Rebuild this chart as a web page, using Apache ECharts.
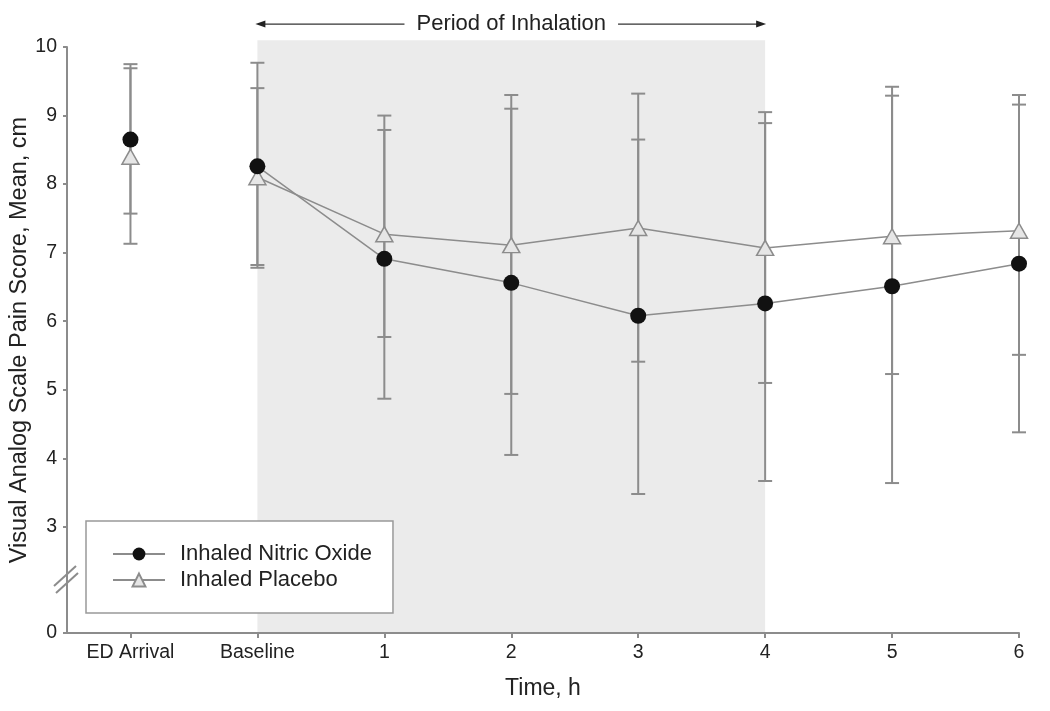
<!DOCTYPE html>
<html>
<head>
<meta charset="utf-8">
<script src="https://cdn.jsdelivr.net/npm/echarts@6/dist/echarts.min.js"></script>
<style>html,body{margin:0;padding:0;background:#fff}#c{width:1050px;height:711px}</style>
</head>
<body>
<div id="c"></div>
<script>
const categories = ['ED Arrival', 'Baseline', '1', '2', '3', '4', '5', '6'];
const noMean  = [8.65, 8.26, 6.91, 6.56, 6.08, 6.26, 6.51, 6.84];
const noUpper = [9.75, 9.77, 9.00, 9.10, 8.65, 8.89, 9.42, 9.30];
const noLower = [7.57, 6.78, 4.87, 4.05, 3.48, 3.67, 3.64, 4.38];
const plMean  = [8.40, 8.10, 7.27, 7.11, 7.36, 7.07, 7.24, 7.32];
const plUpper = [9.69, 9.40, 8.79, 9.30, 9.32, 9.05, 9.29, 9.16];
const plLower = [7.13, 6.82, 5.77, 4.94, 5.41, 5.10, 5.23, 5.51];
const yTicks = [0, 3, 4, 5, 6, 7, 8, 9, 10];
const yBreak = [0.5, 2.5];
// inhalation period: from Baseline (index 1) to hour 4 (index 5)
const periodStart = 1, periodEnd = 5;
const periodLabel = 'Period of Inhalation';
const nameNO = 'Inhaled Nitric Oxide';
const namePL = 'Inhaled Placebo';

const FONT = "'Liberation Sans', Arial, Helvetica, sans-serif";
const GREY = '#8c8c8c';
const TXT = '#222';
const idx = categories.map((c, i) => i);

function pts(arr, from) { return arr.map((v, i) => [i, v]).slice(from, from === 0 ? 1 : undefined); }
function bars(lo, hi) { return lo.map((v, i) => [i, v, hi[i]]); }

function errRender(params, api) {
  const x = api.value(0), lo = api.value(1), hi = api.value(2);
  const a = api.coord([x, hi]), b = api.coord([x, lo]);
  const w = 7;
  const st = { stroke: GREY, lineWidth: 2 };
  return { type: 'group', children: [
    { type: 'line', shape: { x1: a[0], y1: a[1], x2: b[0], y2: b[1] }, style: st },
    { type: 'line', shape: { x1: a[0] - w, y1: a[1], x2: a[0] + w, y2: a[1] }, style: st },
    { type: 'line', shape: { x1: b[0] - w, y1: b[1], x2: b[0] + w, y2: b[1] }, style: st }
  ]};
}

function periodRender(params, api) {
  const x0 = api.value(0), x1 = api.value(1), y0 = api.value(2), y1 = api.value(3), ya = api.value(4);
  const tl = api.coord([x0, y1]);
  const br = api.coord([x1, y0]);
  const ay = api.coord([x0, ya])[1];
  const L = tl[0] - 2, R = br[0] + 1;
  const cx = (tl[0] + br[0]) / 2;
  return { type: 'group', children: [
    { type: 'rect', shape: { x: tl[0], y: tl[1], width: br[0] - tl[0], height: br[1] - tl[1] }, style: { fill: '#ebebeb' } },
    { type: 'line', shape: { x1: L + 6, y1: ay, x2: R - 6, y2: ay }, style: { stroke: '#333', lineWidth: 1.3 } },
    { type: 'polygon', shape: { points: [[L, ay], [L + 10, ay - 3.5], [L + 10, ay + 3.5]] }, style: { fill: '#222' } },
    { type: 'polygon', shape: { points: [[R, ay], [R - 10, ay - 3.5], [R - 10, ay + 3.5]] }, style: { fill: '#222' } },
    { type: 'text', x: cx, y: ay, style: { text: periodLabel, fill: TXT, fontFamily: FONT, fontSize: 22, align: 'center', verticalAlign: 'middle', backgroundColor: '#fff', padding: [0, 12] } }
  ]};
}

const noSymbol = { symbol: 'circle', symbolSize: 16, itemStyle: { color: '#111', borderColor: '#111', borderWidth: 0, opacity: 1 } };
const plSymbol = { symbol: 'triangle', symbolSize: [17, 15], itemStyle: { color: '#e6e6e6', borderColor: GREY, borderWidth: 1.5, opacity: 1 } };

const chart = echarts.init(document.getElementById('c'), null, { renderer: 'canvas' });
chart.setOption({
  animation: false,
  backgroundColor: '#fff',
  textStyle: { fontFamily: FONT },
  grid: { left: 67, right: 31, top: 47, bottom: 78, containLabel: false, outerBoundsMode: 'none' },
  legend: {
    data: [nameNO, namePL],
    orient: 'vertical',
    left: 86, top: 521, z: 10,
    padding: [22, 21, 22, 26],
    itemWidth: 52, itemHeight: 16, itemGap: 4,
    backgroundColor: '#fff',
    borderColor: '#999', borderWidth: 1.5,
    textStyle: { fontFamily: FONT, fontSize: 22, lineHeight: 22, color: TXT, padding: [0, 0, 0, 10] },
    selectedMode: false
  },
  xAxis: {
    type: 'value', min: -0.5, max: 7,
    name: 'Time, h', nameLocation: 'middle', nameGap: 44, nameMoveOverlap: false,
    nameTextStyle: { fontFamily: FONT, fontSize: 23, color: TXT },
    axisLine: { show: true, onZero: false, lineStyle: { color: GREY, width: 2 } },
    axisTick: { show: true, length: 5, customValues: idx, lineStyle: { color: GREY, width: 2 } },
    axisLabel: { customValues: idx, formatter: v => categories[Math.round(v)] || '', fontFamily: FONT, fontSize: 19.5, color: TXT, margin: 10 },
    splitLine: { show: false }
  },
  yAxis: {
    type: 'value', min: 0, max: 10,
    breaks: [{ start: yBreak[0], end: yBreak[1], gap: '6.4%' }],
    breakArea: { show: false },
    name: 'Visual Analog Scale Pain Score, Mean, cm', nameLocation: 'middle', nameGap: 35, nameMoveOverlap: false,
    nameTextStyle: { fontFamily: FONT, fontSize: 23.5, color: TXT },
    axisLine: { show: true, onZero: false, lineStyle: { color: GREY, width: 2 } },
    axisTick: { show: true, length: 4, customValues: yTicks, lineStyle: { color: GREY, width: 2 } },
    axisLabel: { customValues: yTicks, fontFamily: FONT, fontSize: 19.5, color: TXT, margin: 10 },
    splitLine: { show: false }
  },
  series: [
    {
      name: 'period', type: 'custom', renderItem: periodRender, clip: false, silent: true, z: -1,
      data: [[periodStart, periodEnd, 0, 10.1, 10.335]],
      encode: { x: [0, 1], y: [2, 3] }
    },
    { name: 'errNO', type: 'custom', renderItem: errRender, data: bars(noLower, noUpper), encode: { x: 0, y: [1, 2] }, z: 2, silent: true },
    { name: 'errPL', type: 'custom', renderItem: errRender, data: bars(plLower, plUpper), encode: { x: 0, y: [1, 2] }, z: 2, silent: true },
    Object.assign({ name: nameNO, type: 'line', data: pts(noMean, 1), lineStyle: { color: GREY, width: 1.5 }, z: 5 }, noSymbol),
    Object.assign({ name: namePL, type: 'line', data: pts(plMean, 1), lineStyle: { color: GREY, width: 1.5 }, z: 4 }, plSymbol),
    Object.assign({ name: 'edNO', type: 'scatter', data: pts(noMean, 0), z: 5 }, noSymbol),
    Object.assign({ name: 'edPL', type: 'scatter', data: pts(plMean, 0), z: 4 }, plSymbol)
  ]
});

// axis-break decoration ("//") placed from the axis scale
const ax = chart.convertToPixel({ xAxisIndex: 0 }, -0.5);
const yHi = chart.convertToPixel({ yAxisIndex: 0 }, yBreak[1]);
const yLo = chart.convertToPixel({ yAxisIndex: 0 }, yBreak[0]);
const ym = (yHi + yLo) / 2;
const gst = { stroke: GREY, lineWidth: 2 };
chart.setOption({
  graphic: [
    { type: 'line', shape: { x1: ax, y1: yHi - 1, x2: ax, y2: yLo + 1 }, style: gst, z: 100 },
    { type: 'line', shape: { x1: ax - 13, y1: ym + 6, x2: ax + 9, y2: ym - 14 }, style: gst, z: 100 },
    { type: 'line', shape: { x1: ax - 11, y1: ym + 13, x2: ax + 11, y2: ym - 7 }, style: gst, z: 100 }
  ]
});
</script>
</body>
</html>
